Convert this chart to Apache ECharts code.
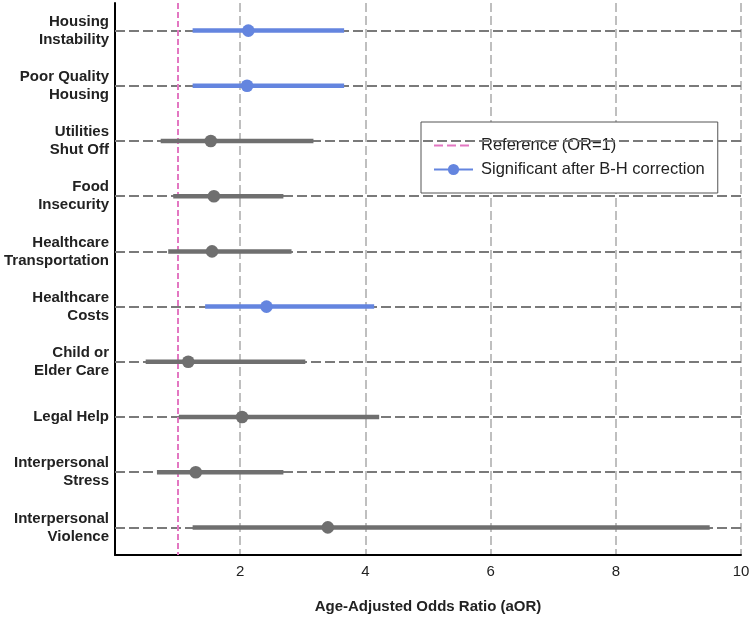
<!DOCTYPE html>
<html>
<head>
<meta charset="utf-8">
<script src="https://cdn.jsdelivr.net/npm/echarts@6/dist/echarts.min.js"></script>
<style>
html,body{margin:0;padding:0;background:#fff;}
#chart{width:750px;height:621px;}
</style>
</head>
<body>
<div id="chart"></div>
<script>
const categories = [
  'Housing\nInstability', 'Poor Quality\nHousing', 'Utilities\nShut Off', 'Food\nInsecurity',
  'Healthcare\nTransportation', 'Healthcare\nCosts', 'Child or\nElder Care', 'Legal Help',
  'Interpersonal\nStress', 'Interpersonal\nViolence'
];
const estimates = [2.13, 2.11, 1.53, 1.58, 1.55, 2.42, 1.17, 2.03, 1.29, 3.40];
const lower     = [1.24, 1.24, 0.73, 0.93, 0.85, 1.44, 0.49, 1.02, 0.67, 1.24];
const upper     = [3.66, 3.66, 3.17, 2.69, 2.82, 4.14, 3.04, 4.22, 2.69, 9.50];
const significant = [true, true, false, false, false, true, false, false, false, false];
const xTicks = [0, 2, 4, 6, 8, 10];
const referenceOR = 1;

const BLUE = '#6485df';
const GRAY = '#6f6f6f';
const PINK = '#e377c2';
const FONT = 'Liberation Sans, Arial, sans-serif';

const rows = categories.map((c, i) => [lower[i], upper[i], estimates[i], i, significant[i] ? 1 : 0]);

function renderCI(params, api) {
  const y = api.value(3);
  const a = api.coord([api.value(0), y]);
  const b = api.coord([api.value(1), y]);
  const e = api.coord([api.value(2), y]);
  const col = api.value(4) ? BLUE : GRAY;
  return {
    type: 'group',
    children: [
      { type: 'line', shape: { x1: a[0], y1: a[1], x2: b[0], y2: b[1] }, style: { stroke: col, lineWidth: 4.5, lineCap: 'butt' } },
      { type: 'circle', shape: { cx: e[0], cy: e[1], r: 6.3 }, style: { fill: col } }
    ]
  };
}

const chart = echarts.init(document.getElementById('chart'), null, { renderer: 'canvas' });
chart.setOption({
  animation: false,
  backgroundColor: '#fff',
  textStyle: { fontFamily: FONT },
  grid: { left: 115, right: 9, top: 3, bottom: 66, containLabel: false, outerBoundsMode: 'none' },
  legend: {
    data: [
      { name: 'Reference (OR=1)', itemStyle: { color: 'rgba(0,0,0,0)', borderColor: 'rgba(0,0,0,0)', borderWidth: 0 } },
      { name: 'Significant after B-H correction' }
    ],
    orient: 'vertical',
    left: 421, top: 122,
    itemWidth: 39, itemHeight: 14, itemGap: 7,
    padding: [15, 13, 15, 12],
    borderColor: '#555', borderWidth: 1, backgroundColor: '#fff',
    textStyle: { fontSize: 16.5, color: '#222', fontFamily: FONT, padding: [0, 0, 0, 3] },
    selectedMode: false
  },
  xAxis: {
    type: 'value', min: xTicks[0], max: xTicks[xTicks.length - 1], interval: 2,
    axisLine: { show: true, lineStyle: { color: '#000', width: 2 } },
    axisTick: { show: false },
    axisLabel: { showMinLabel: false, fontSize: 15, color: '#222', margin: 9 },
    splitLine: { show: true, lineStyle: { color: '#aaaaaa', width: 1.5, type: [9, 4] } },
    name: 'Age-Adjusted Odds Ratio (aOR)', nameLocation: 'middle', nameGap: 44,
    nameTextStyle: { fontSize: 15, fontWeight: 'bold', color: '#222' }
  },
  yAxis: {
    type: 'category', data: categories, inverse: true, boundaryGap: true,
    axisLine: { show: true, lineStyle: { color: '#000', width: 2 } },
    axisTick: { show: true, inside: true, alignWithLabel: true, length: 8, lineStyle: { color: '#000', width: 2 } },
    axisLabel: { fontSize: 15, fontWeight: 'bold', color: '#222', lineHeight: 18, margin: 6, align: 'right' },
    splitLine: { show: false }
  },
  series: [
    {
      name: 'rows', type: 'line', data: [], silent: true, z: 1,
      markLine: {
        silent: true, symbol: ['none', 'none'], label: { show: false },
        lineStyle: { color: '#7a7a7a', width: 2, type: [10, 4] },
        data: categories.map((c, i) => ({ yAxis: i }))
      }
    },
    {
      name: 'Reference (OR=1)', type: 'line', data: [], symbol: 'none', z: 3,
      lineStyle: { color: PINK, width: 2, type: [9, 4] }, itemStyle: { color: PINK },
      markLine: {
        silent: true, symbol: ['none', 'none'], label: { show: false },
        lineStyle: { color: PINK, width: 2, type: [6, 3] },
        data: [{ xAxis: referenceOR }]
      }
    },
    {
      name: 'Significant after B-H correction', type: 'line', data: [], symbol: 'circle', symbolSize: 11,
      lineStyle: { color: BLUE, width: 2 }, itemStyle: { color: BLUE }
    },
    {
      name: 'CI', type: 'custom', renderItem: renderCI, data: rows, z: 5,
      encode: { x: [0, 1, 2], y: 3 }
    }
  ]
});
</script>
</body>
</html>
